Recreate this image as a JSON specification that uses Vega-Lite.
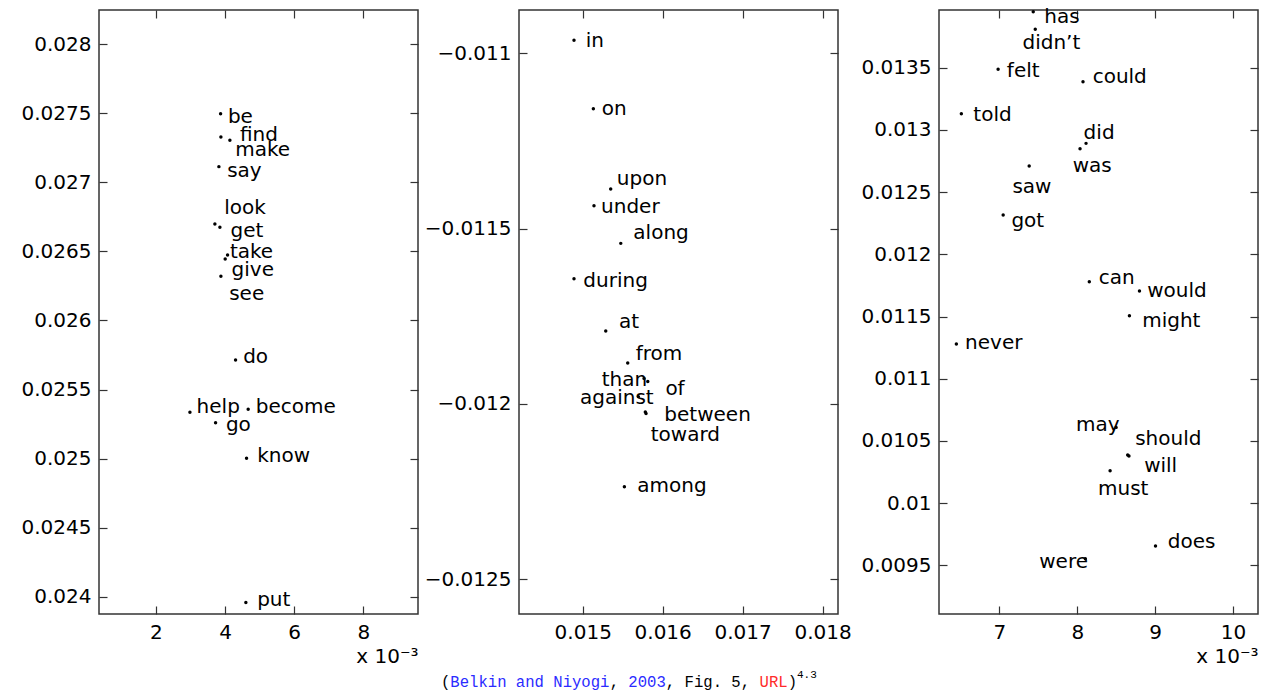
{
  "$schema": "https://vega.github.io/schema/vega-lite/v6.json",
  "background": "white",
  "padding": {"left": 20, "top": 5, "right": 5, "bottom": 0},
  "datasets": {
    "p1": [
      {"w": "be", "x": 3.870, "y": 0.027497, "lx": 4.081, "ly": 0.027476},
      {"w": "find", "x": 3.879, "y": 0.027329, "lx": 4.428, "ly": 0.027343},
      {"w": "make", "x": 4.139, "y": 0.027305, "lx": 4.292, "ly": 0.027235},
      {"w": "say", "x": 3.821, "y": 0.027114, "lx": 4.061, "ly": 0.027083},
      {"w": "look", "x": 3.705, "y": 0.026699, "lx": 3.974, "ly": 0.026812},
      {"w": "get", "x": 3.850, "y": 0.026675, "lx": 4.159, "ly": 0.026650},
      {"w": "take", "x": 4.072, "y": 0.026474, "lx": 4.139, "ly": 0.026498},
      {"w": "see", "x": 4.003, "y": 0.026445, "lx": 4.118, "ly": 0.026190},
      {"w": "give", "x": 3.879, "y": 0.026320, "lx": 4.188, "ly": 0.026366},
      {"w": "do", "x": 4.303, "y": 0.025714, "lx": 4.523, "ly": 0.025738},
      {"w": "help", "x": 2.983, "y": 0.025335, "lx": 3.176, "ly": 0.025376},
      {"w": "become", "x": 4.668, "y": 0.025357, "lx": 4.890, "ly": 0.025371},
      {"w": "go", "x": 3.725, "y": 0.025260, "lx": 4.023, "ly": 0.025243},
      {"w": "know", "x": 4.621, "y": 0.025002, "lx": 4.928, "ly": 0.025019},
      {"w": "put", "x": 4.601, "y": 0.023959, "lx": 4.928, "ly": 0.023976}
    ],
    "p2": [
      {"w": "in", "x": 0.014891, "y": -0.010963, "lx": 0.015038, "ly": -0.010965},
      {"w": "on", "x": 0.015133, "y": -0.011158, "lx": 0.015238, "ly": -0.011159},
      {"w": "upon", "x": 0.015350, "y": -0.011387, "lx": 0.015426, "ly": -0.011358},
      {"w": "under", "x": 0.015141, "y": -0.011435, "lx": 0.015229, "ly": -0.011437},
      {"w": "along", "x": 0.015476, "y": -0.011542, "lx": 0.015633, "ly": -0.011513},
      {"w": "during", "x": 0.014891, "y": -0.011643, "lx": 0.015008, "ly": -0.011649},
      {"w": "at", "x": 0.015288, "y": -0.011792, "lx": 0.015454, "ly": -0.011767},
      {"w": "from", "x": 0.015563, "y": -0.011883, "lx": 0.015663, "ly": -0.011857},
      {"w": "than", "x": 0.015767, "y": -0.011927, "lx": 0.015238, "ly": -0.011932},
      {"w": "of", "x": 0.015814, "y": -0.011936, "lx": 0.016034, "ly": -0.011958},
      {"w": "against", "x": 0.015696, "y": -0.011979, "lx": 0.014966, "ly": -0.011984},
      {"w": "between", "x": 0.015792, "y": -0.012027, "lx": 0.016021, "ly": -0.012031},
      {"w": "toward", "x": 0.015783, "y": -0.012023, "lx": 0.015851, "ly": -0.012088},
      {"w": "among", "x": 0.015521, "y": -0.012236, "lx": 0.015683, "ly": -0.012233}
    ],
    "p3": [
      {"w": "has", "x": 7.434, "y": 0.013950, "lx": 7.576, "ly": 0.013910},
      {"w": "didn’t", "x": 7.460, "y": 0.013809, "lx": 7.296, "ly": 0.013701},
      {"w": "felt", "x": 6.983, "y": 0.013487, "lx": 7.095, "ly": 0.013473},
      {"w": "could", "x": 8.073, "y": 0.013387, "lx": 8.197, "ly": 0.013423},
      {"w": "told", "x": 6.511, "y": 0.013130, "lx": 6.665, "ly": 0.013120},
      {"w": "did", "x": 8.112, "y": 0.012892, "lx": 8.081, "ly": 0.012973},
      {"w": "was", "x": 8.035, "y": 0.012849, "lx": 7.940, "ly": 0.012712},
      {"w": "saw", "x": 7.382, "y": 0.012710, "lx": 7.167, "ly": 0.012539},
      {"w": "got", "x": 7.048, "y": 0.012316, "lx": 7.154, "ly": 0.012268},
      {"w": "can", "x": 8.154, "y": 0.011780, "lx": 8.274, "ly": 0.011807},
      {"w": "would", "x": 8.798, "y": 0.011705, "lx": 8.897, "ly": 0.011707},
      {"w": "might", "x": 8.669, "y": 0.011506, "lx": 8.833, "ly": 0.011466},
      {"w": "never", "x": 6.447, "y": 0.011279, "lx": 6.559, "ly": 0.011285},
      {"w": "may", "x": 8.498, "y": 0.010609, "lx": 7.983, "ly": 0.010628},
      {"w": "should", "x": 8.647, "y": 0.010387, "lx": 8.743, "ly": 0.010515},
      {"w": "will", "x": 8.663, "y": 0.010379, "lx": 8.858, "ly": 0.010297},
      {"w": "must", "x": 8.421, "y": 0.010260, "lx": 8.266, "ly": 0.010113},
      {"w": "does", "x": 9.004, "y": 0.009655, "lx": 9.162, "ly": 0.009690},
      {"w": "were", "x": 8.103, "y": 0.009553, "lx": 7.511, "ly": 0.009529}
    ],
    "cap": [
      {"t": "(", "k": "plain", "i": 0},
      {"t": "Belkin and Niyogi", "k": "cite", "i": 1},
      {"t": ", ", "k": "plain", "i": 18},
      {"t": "2003", "k": "cite", "i": 20},
      {"t": ", Fig. 5, ", "k": "plain", "i": 24},
      {"t": "URL", "k": "link", "i": 34},
      {"t": ")", "k": "plain", "i": 37}
    ],
    "capsup": [
      {"t": "4.3", "k": "plain", "i": 38}
    ]
  },
  "vconcat": [
    {
      "bounds": "flush",
      "spacing": 101,
      "hconcat": [
        {
          "width": 319, "height": 604,
          "data": {"name": "p1"},
          "layer": [
            {
              "mark": {"type": "circle", "size": 12, "color": "#000", "opacity": 1},
              "encoding": {
                "x": {"field": "x", "type": "quantitative", "scale": {"domain": [0.353, 9.58], "nice": false, "zero": false},
                      "axis": {"values": [2, 4, 6, 8], "format": "d", "title": "x 10⁻³", "titleAnchor": "end", "titleAlign": "right"}},
                "y": {"field": "y", "type": "quantitative", "scale": {"domain": [0.023875, 0.028248], "nice": false, "zero": false},
                      "axis": {"values": [0.024, 0.0245, 0.025, 0.0255, 0.026, 0.0265, 0.027, 0.0275, 0.028], "format": ".4~f", "title": null}}
              }
            },
            {
              "mark": {"type": "text", "align": "left", "baseline": "middle", "fontSize": 20, "font": "DejaVu Sans", "color": "#000"},
              "encoding": {
                "x": {"field": "lx", "type": "quantitative", "scale": {"domain": [0.353, 9.58], "nice": false, "zero": false},
                      "axis": {"orient": "top", "values": [2, 4, 6, 8], "labels": false, "title": null}},
                "y": {"field": "ly", "type": "quantitative", "scale": {"domain": [0.023875, 0.028248], "nice": false, "zero": false},
                      "axis": {"orient": "right", "values": [0.024, 0.0245, 0.025, 0.0255, 0.026, 0.0265, 0.027, 0.0275, 0.028], "labels": false, "title": null}},
                "text": {"field": "w"}
              }
            }
          ],
          "resolve": {"axis": {"x": "independent", "y": "independent"}}
        },
        {
          "width": 319, "height": 604,
          "data": {"name": "p2"},
          "layer": [
            {
              "mark": {"type": "circle", "size": 12, "color": "#000", "opacity": 1},
              "encoding": {
                "x": {"field": "x", "type": "quantitative", "scale": {"domain": [0.014203, 0.018193], "nice": false, "zero": false},
                      "axis": {"values": [0.015, 0.016, 0.017, 0.018], "format": ".3f", "title": null}},
                "y": {"field": "y", "type": "quantitative", "scale": {"domain": [-0.0125989, -0.0108765], "nice": false, "zero": false},
                      "axis": {"values": [-0.0125, -0.012, -0.0115, -0.011], "format": ".4~f", "title": null}}
              }
            },
            {
              "mark": {"type": "text", "align": "left", "baseline": "middle", "fontSize": 20, "font": "DejaVu Sans", "color": "#000"},
              "encoding": {
                "x": {"field": "lx", "type": "quantitative", "scale": {"domain": [0.014203, 0.018193], "nice": false, "zero": false},
                      "axis": {"orient": "top", "values": [0.015, 0.016, 0.017, 0.018], "labels": false, "title": null}},
                "y": {"field": "ly", "type": "quantitative", "scale": {"domain": [-0.0125989, -0.0108765], "nice": false, "zero": false},
                      "axis": {"orient": "right", "values": [-0.0125, -0.012, -0.0115, -0.011], "labels": false, "title": null}},
                "text": {"field": "w"}
              }
            }
          ],
          "resolve": {"axis": {"x": "independent", "y": "independent"}}
        },
        {
          "width": 319, "height": 604,
          "data": {"name": "p3"},
          "layer": [
            {
              "mark": {"type": "circle", "size": 12, "color": "#000", "opacity": 1},
              "encoding": {
                "x": {"field": "x", "type": "quantitative", "scale": {"domain": [6.224, 10.32], "nice": false, "zero": false},
                      "axis": {"values": [7, 8, 9, 10], "format": "d", "title": "x 10⁻³", "titleAnchor": "end", "titleAlign": "right"}},
                "y": {"field": "y", "type": "quantitative", "scale": {"domain": [0.009109, 0.013964], "nice": false, "zero": false},
                      "axis": {"values": [0.0095, 0.01, 0.0105, 0.011, 0.0115, 0.012, 0.0125, 0.013, 0.0135], "format": ".4~f", "title": null}}
              }
            },
            {
              "mark": {"type": "text", "align": "left", "baseline": "middle", "fontSize": 20, "font": "DejaVu Sans", "color": "#000"},
              "encoding": {
                "x": {"field": "lx", "type": "quantitative", "scale": {"domain": [6.224, 10.32], "nice": false, "zero": false},
                      "axis": {"orient": "top", "values": [7, 8, 9, 10], "labels": false, "title": null}},
                "y": {"field": "ly", "type": "quantitative", "scale": {"domain": [0.009109, 0.013964], "nice": false, "zero": false},
                      "axis": {"orient": "right", "values": [0.0095, 0.01, 0.0105, 0.011, 0.0115, 0.012, 0.0125, 0.013, 0.0135], "labels": false, "title": null}},
                "text": {"field": "w"}
              }
            }
          ],
          "resolve": {"axis": {"x": "independent", "y": "independent"}}
        }
      ]
    },
    {
      "width": 1159, "height": 20,
      "view": {"stroke": null},
      "layer": [
        {
          "data": {"name": "cap"},
          "mark": {"type": "text", "align": "left", "baseline": "middle", "font": "Liberation Mono", "fontSize": 15.6},
          "encoding": {
            "x": {"field": "i", "type": "quantitative", "scale": {"domain": [-36.5, 87.2], "nice": false, "zero": false}, "axis": null},
            "text": {"field": "t"},
            "color": {"field": "k", "type": "nominal", "scale": {"domain": ["plain", "cite", "link"], "range": ["#000000", "#2b2bff", "#ff2b2b"]}, "legend": null}
          }
        },
        {
          "data": {"name": "capsup"},
          "mark": {"type": "text", "align": "left", "baseline": "middle", "font": "Liberation Mono", "fontSize": 11, "dy": -7, "color": "#000"},
          "encoding": {
            "x": {"field": "i", "type": "quantitative", "scale": {"domain": [-36.5, 87.2], "nice": false, "zero": false}, "axis": null},
            "text": {"field": "t"}
          }
        }
      ]
    }
  ],
  "spacing": 2,
  "config": {
    "view": {"stroke": "#333", "strokeWidth": 1.5},
    "axis": {
      "domain": false, "grid": false,
      "labelFont": "DejaVu Sans", "labelFontSize": 20, "labelColor": "#000", "labelFlush": false, "labelOverlap": false,
      "tickColor": "#333", "tickSize": -8, "tickWidth": 1.2, "labelPadding": 16,
      "titleFont": "DejaVu Sans", "titleFontSize": 20, "titleFontWeight": "normal", "titleColor": "#000", "titlePadding": 4
    }
  }
}
